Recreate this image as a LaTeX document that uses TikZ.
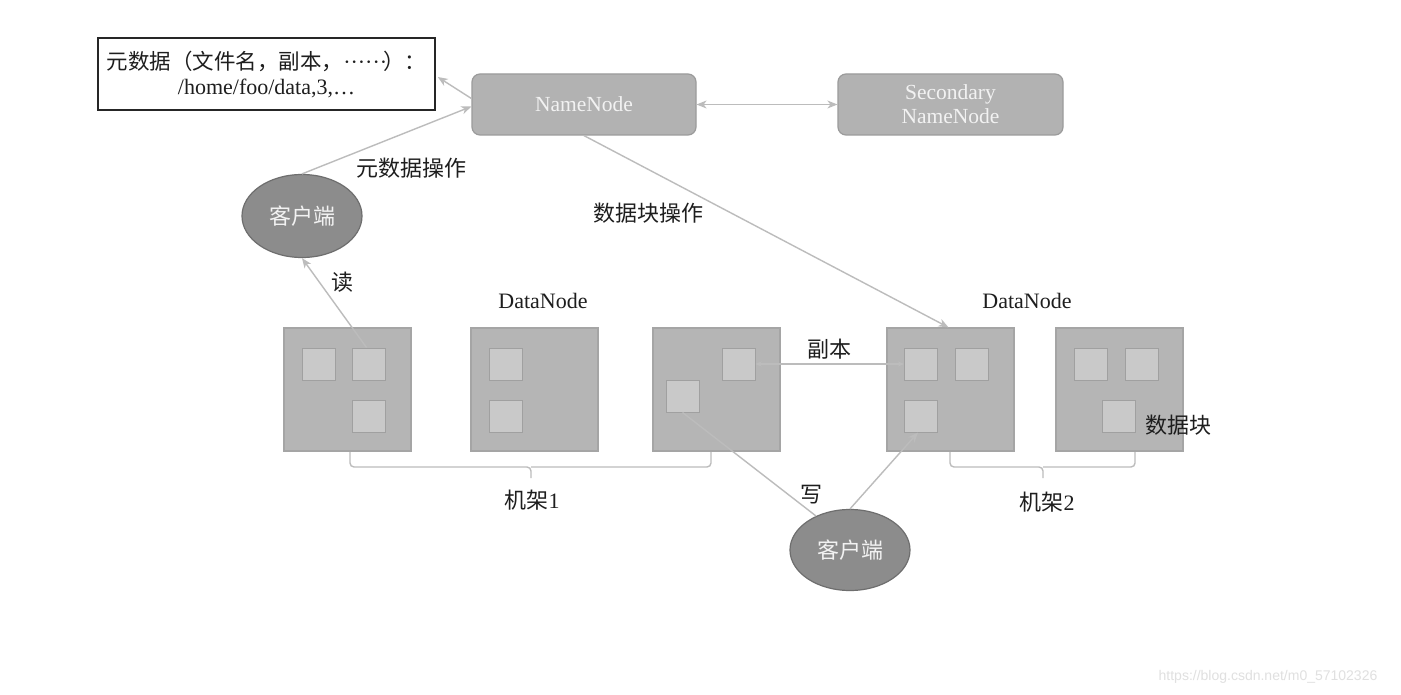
\documentclass[tikz,border=0pt]{standalone}
\usepackage{fontspec}
\setmainfont{Liberation Serif}
\newfontfamily\cjk{Noto Sans CJK SC}
\newfontfamily\wmfont{Liberation Sans}
\usetikzlibrary{shapes.geometric,arrows.meta}
\definecolor{dnfill}{RGB}{181,181,181}
\definecolor{dnborder}{RGB}{165,165,165}
\definecolor{blkfill}{RGB}{201,201,201}
\definecolor{blkborder}{RGB}{160,160,160}
\definecolor{nnfill}{RGB}{178,178,178}
\definecolor{nnborder}{RGB}{155,155,155}
\definecolor{clfill}{RGB}{140,140,140}
\definecolor{clborder}{RGB}{110,110,110}
\definecolor{linegray}{RGB}{188,188,188}
\definecolor{ntext}{RGB}{242,242,242}
\definecolor{ltext}{RGB}{30,30,30}
\begin{document}
\begin{tikzpicture}[x=1pt,y=-1pt,
  every node/.style={font=\fontsize{22}{25}\selectfont, inner sep=0pt},
  dnbox/.style={draw=dnborder, fill=dnfill, line width=1.2pt, minimum width=127pt, minimum height=123pt},
  blk/.style={draw=blkborder, fill=blkfill, line width=1pt, minimum width=33pt, minimum height=32pt},
  nnbox/.style={draw=nnborder, fill=nnfill, line width=1.2pt, rounded corners=8pt, minimum width=224pt, minimum height=61pt, text=ntext, align=center, font=\fontsize{21.5}{24}\selectfont},
  client/.style={ellipse, draw=clborder, fill=clfill, line width=1.2pt, minimum width=120pt, minimum height=83pt, text=ntext},
  tip/.tip={Stealth[length=10pt,width=8pt,inset=3pt]},
  smalltip/.tip={Stealth[length=6pt,width=5pt]},
  conn/.style={draw=linegray, line width=1.4pt, -tip},
  lbl/.style={text=ltext},
  bracepath/.style={draw=linegray, line width=1.4pt, rounded corners=4pt}
]
\useasboundingbox[fill=white] (0,0) rectangle (1401,695);

% metadata box
\node[draw=black!85, line width=1.5pt, fill=white, minimum width=337pt, minimum height=72pt, align=center, text=ltext] (meta) at (266.5,74)
  {{\cjk\fontsize{21.5}{25}\selectfont 元数据（文件名，副本，}\makebox[40pt][s]{·\hfill·\hfill·\hfill·\hfill·\hfill·}{\cjk\fontsize{21.5}{25}\selectfont ）：}\\/home/foo/data,3,…};

% name nodes
\node[nnbox] (nn) at (584,104.5) {NameNode};
\node[nnbox, minimum width=225pt] (snn) at (950.5,104.5) {Secondary\\NameNode};

% clients
\node[client] (cl1) at (302,216) {\cjk 客户端};
\node[client, minimum height=81pt] (cl2) at (850,550) {\cjk 客户端};

% data nodes
\node[dnbox] (dn1) at (347.5,389.5) {};
\node[dnbox] (dn2) at (534.5,389.5) {};
\node[dnbox] (dn3) at (716.5,389.5) {};
\node[dnbox] (dn4) at (950.5,389.5) {};
\node[dnbox] (dn5) at (1119.5,389.5) {};

% blocks
\node[blk] (b1a) at (318.5,364) {};
\node[blk] (b1b) at (368.5,364) {};
\node[blk] (b1c) at (368.5,416) {};
\node[blk] (b2a) at (505.5,364) {};
\node[blk] (b2b) at (505.5,416) {};
\node[blk] (b3a) at (738.5,364) {};
\node[blk] (b3b) at (682.5,396) {};
\node[blk] (b4a) at (921,364) {};
\node[blk] (b4b) at (971.5,364) {};
\node[blk] (b4c) at (921,416) {};
\node[blk] (b5a) at (1090.5,364) {};
\node[blk] (b5b) at (1141.5,364) {};
\node[blk] (b5c) at (1118.5,416) {};

% labels
\node[lbl] (lmeta) at (411,168) {\cjk 元数据操作};
\node[lbl] (lread) at (342,282) {\cjk 读};
\node[lbl] (lblock) at (648,213) {\cjk 数据块操作};
\node[lbl] (ldn1) at (543,301) {DataNode};
\node[lbl] (ldn2) at (1027,301) {DataNode};
\node[lbl] (lrep) at (829,349) {\cjk 副本};
\node[lbl] (lwrite) at (811,495) {\cjk 写};
\node[lbl] (lrack1) at (532,500) {{\cjk 机架}1};
\node[lbl] (lrack2) at (1047,502) {{\cjk 机架}2};
\node[lbl] (lblk) at (1178,425) {\cjk 数据块};
\node[text=black!12, font=\wmfont\fontsize{14}{16}\selectfont] (wm) at (1268,677) {https://blog.csdn.net/m0\_57102326};

% connectors
\draw[conn] ([yshift=6pt]nn.west) -- ([xshift=2pt,yshift=-3pt]meta.east);
\draw[conn] (cl1.north) -- ([yshift=-2pt]nn.west);
\draw[conn] ([xshift=-2pt]b1b.north) -- (cl1.south);
\draw[conn] (nn.south) -- ([xshift=-2pt]dn4.north);
\draw[draw=linegray, line width=1.4pt, tip-tip] (nn.east) -- (snn.west);
\draw[draw=linegray, line width=1.2pt, smalltip-smalltip] (b3a.east) -- (b4a.west);
\draw[draw=linegray, line width=1.4pt] (cl2.135) -- (b3b.south);
\draw[conn] (cl2.north) -- ([xshift=-3pt]b4c.south);

% rack braces
\coordinate (r1l) at (350,452);
\coordinate (r1r) at (711,452);
\coordinate (r1m) at (531,467);
\coordinate (r1t) at (531,478);
\draw[bracepath] (r1l) |- (r1m) -- (r1t);
\draw[bracepath] (r1r) |- (r1m);
\coordinate (r2l) at (950,452);
\coordinate (r2r) at (1135,452);
\coordinate (r2m) at (1043,467);
\coordinate (r2t) at (1043,478);
\draw[bracepath] (r2l) |- (r2m) -- (r2t);
\draw[bracepath] (r2r) |- (r2m);
\end{tikzpicture}
\end{document}
